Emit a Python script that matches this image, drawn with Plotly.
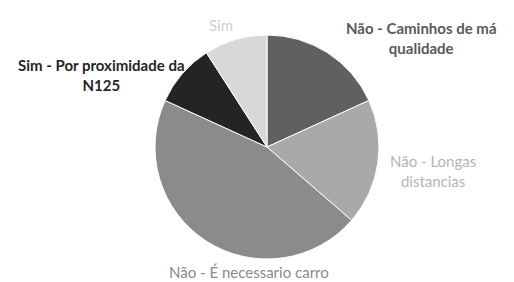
import plotly.graph_objects as go

labels = ["Não - Caminhos de má qualidade", "Não - Longas distancias",
          "Não - É necessario carro", "Sim - Por proximidade da N125", "Sim"]
values = [4, 4, 10, 2, 2]
colors = ["#606060", "#a9a9a9", "#8b8b8b", "#242424", "#d8d8d8"]

# label display text (with line breaks) and styles
label_text = ["<b>Não - Caminhos de má<br>qualidade</b>", "Não - Longas<br>distancias",
              "Não - É necessario carro", "<b>Sim - Por proximidade da<br>N125</b>", "Sim"]
label_colors = ["#595959", "#b5b5b5", "#8a8a8a", "#262626", "#d0d0d0"]
label_pos = [(421, 38), (433, 171), (249, 272), (101, 75), (221, 25)]

W, H = 514, 282
cx, cy, r = 267, 147, 112

fig = go.Figure(go.Pie(
    labels=labels, values=values, sort=False, direction="clockwise", rotation=0,
    marker=dict(colors=colors, line=dict(color="#ffffff", width=1)),
    textinfo="none", hoverinfo="label+value", showlegend=False,
    domain=dict(x=[(cx - r) / W, (cx + r) / W], y=[(H - cy - r) / H, (H - cy + r) / H]),
))

for t, c, (x, y) in zip(label_text, label_colors, label_pos):
    fig.add_annotation(x=x / W, y=1 - y / H, xref="paper", yref="paper", text=t,
                       showarrow=False, font=dict(family="Lato", size=15, color=c),
                       align="center", xanchor="center", yanchor="middle")

fig.update_layout(width=W, height=H, margin=dict(l=0, r=0, t=0, b=0),
                  paper_bgcolor="white", plot_bgcolor="white")
fig.write_html("out.html", config={"displayModeBar": False},
               post_script="document.body.style.margin='0';")
